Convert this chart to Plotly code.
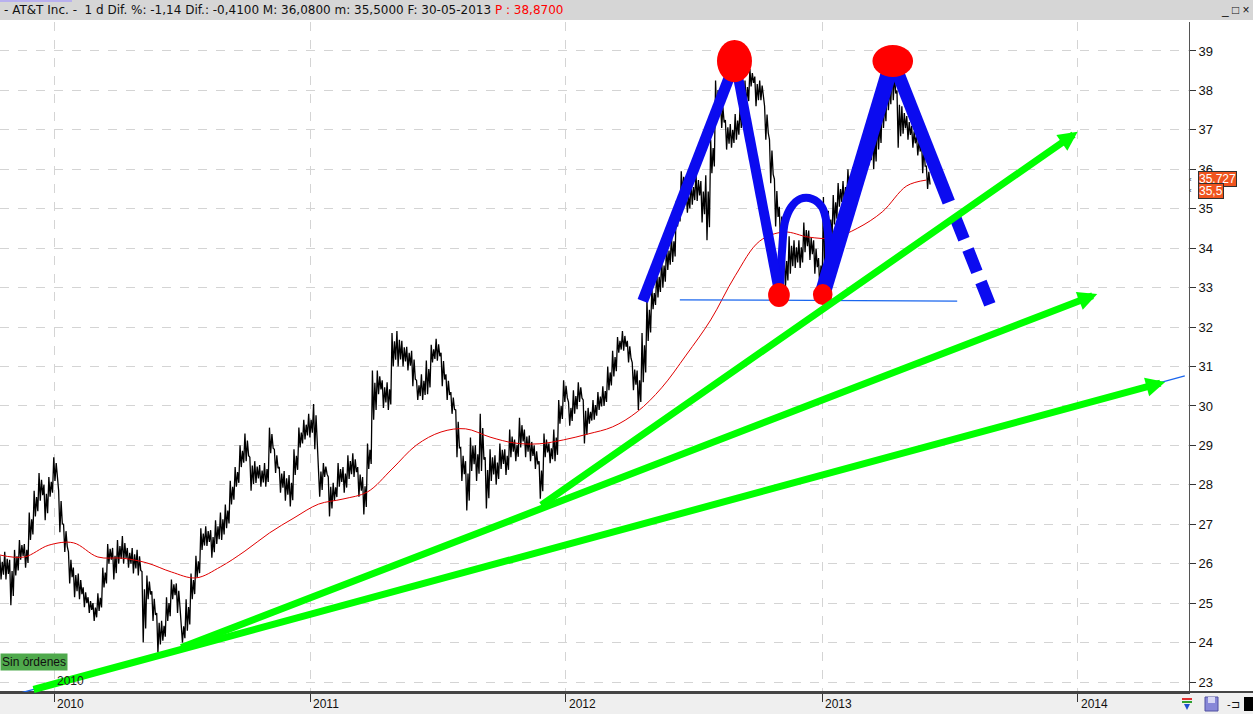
import plotly.graph_objects as go
import pandas as pd

# ---------------- data ----------------
dates = pd.date_range("2009-10-15", periods=190, freq="7D")  # weekly ranges, last = 30-05-2013

week_high = [
    26.2, 26.3, 26.1, 26.35, 26.6, 26.5, 27.3, 27.85, 28.3, 28.0,
    28.2, 28.7, 27.85, 27.0, 26.3, 25.9, 25.75, 25.4, 25.15, 25.0,
    25.25, 25.9, 26.5, 26.4, 26.6, 26.7, 26.4, 26.4, 26.35, 25.8,
    25.7, 25.3, 24.75, 24.55, 25.15, 25.6, 25.5, 24.55, 25.1, 25.75,
    26.2, 26.9, 26.95, 26.85, 27.1, 27.3, 27.5, 28.1, 28.45, 29.0,
    29.3, 28.7, 28.6, 28.5, 28.55, 29.45, 28.9, 28.45, 28.35, 28.25,
    28.9, 29.45, 29.65, 29.8, 30.05, 28.55, 28.55, 28.2, 28.05, 28.55,
    28.45, 28.75, 28.8, 28.45, 28.2, 29.05, 30.9, 30.9, 30.65, 30.6,
    31.85, 31.9, 31.65, 31.5, 31.4, 30.65, 30.8, 31.15, 31.55, 31.7,
    31.35, 30.8, 30.35, 29.9, 28.95, 28.6, 29.2, 29.0, 29.8, 28.7,
    28.9, 28.75, 29.05, 28.9, 29.4, 29.15, 29.7, 29.4, 29.25, 29.0,
    28.6, 29.3, 29.05, 29.4, 30.15, 30.65, 30.1, 30.4, 30.6, 30.15,
    29.95, 30.15, 30.35, 30.5, 31.0, 31.4, 31.75, 31.9, 31.65, 31.1,
    30.9, 31.85, 32.7, 33.0, 33.45, 33.75, 34.1, 34.35, 35.2, 35.95,
    35.45, 35.7, 35.9, 35.7, 35.85, 36.75, 38.25, 37.75, 37.25, 37.15,
    37.4, 37.6, 38.25, 38.55, 38.35, 38.25, 37.6, 36.75, 35.75, 35.05,
    33.9, 34.3, 34.2, 34.2, 34.65, 34.45, 34.2, 33.75, 35.3, 34.95,
    35.35, 35.65, 35.7, 36.0, 36.05, 36.35, 36.75, 36.75, 37.0, 37.35,
    37.9, 38.25, 38.6, 38.0, 37.6, 37.35, 37.1, 36.85, 36.8, 36.08,
]
week_low = [
    25.6, 25.6, 24.95, 25.7, 26.1, 25.9, 26.6, 27.2, 27.6, 27.1,
    27.7, 28.1, 26.8, 26.3, 25.5, 25.15, 25.1, 24.9, 24.75, 24.55,
    24.8, 25.4, 26.0, 25.6, 26.0, 26.0, 25.9, 25.75, 25.7, 24.0,
    25.1, 24.55, 23.75, 24.05, 24.55, 25.1, 24.75, 24.0, 24.3, 25.1,
    25.65, 26.35, 26.45, 26.15, 26.5, 26.6, 26.9, 27.5, 27.95, 28.45,
    28.6, 27.85, 28.05, 27.95, 27.95, 28.8, 28.3, 27.8, 27.6, 27.45,
    28.25, 28.95, 29.15, 29.2, 28.9, 27.7, 28.2, 27.2, 27.6, 27.95,
    27.8, 28.15, 28.2, 27.7, 27.25, 28.4, 29.65, 30.3, 29.95, 29.9,
    31.0, 31.0, 31.0, 30.9, 30.5, 30.15, 30.15, 30.3, 31.1, 31.15,
    30.5, 30.15, 29.8, 28.7, 28.1, 27.35, 28.35, 28.1, 28.35, 27.4,
    28.1, 28.0, 28.4, 28.25, 28.7, 28.6, 28.95, 28.7, 28.6, 28.4,
    27.65, 28.7, 28.55, 28.6, 29.55, 30.1, 29.5, 29.8, 30.1, 29.05,
    29.55, 29.65, 29.9, 30.0, 30.4, 30.75, 31.35, 31.4, 31.1, 30.4,
    29.9, 30.6, 31.65, 32.45, 32.75, 33.0, 33.45, 33.65, 34.55, 35.4,
    34.9, 35.1, 35.2, 34.65, 34.2, 35.9, 37.3, 37.05, 36.5, 36.55,
    36.75, 37.05, 37.6, 38.1, 37.6, 37.75, 36.75, 35.65, 34.55, 34.05,
    33.0, 33.35, 33.5, 33.5, 33.9, 33.7, 33.35, 33.0, 33.2, 34.05,
    34.6, 35.05, 35.1, 35.35, 35.55, 35.7, 36.05, 36.1, 36.0, 36.5,
    37.05, 37.5, 37.75, 36.55, 36.9, 36.75, 36.55, 36.35, 35.9, 35.5,
]

ma_index = list(range(0, 190, 5)) + [189]
ma_values = [26.22, 26.17, 26.47, 26.53, 26.17, 26.14, 26.02, 25.79, 25.64, 25.92,
             26.32, 26.78, 27.16, 27.51, 27.64, 27.82, 28.40, 29.01, 29.34, 29.42,
             29.21, 29.06, 29.04, 29.14, 29.29, 29.47, 29.85, 30.46, 31.29, 32.18,
             33.30, 34.18, 34.41, 34.28, 34.26, 34.51, 34.92, 35.58, 35.727]

year_ticks = ["2010-01-01", "2011-01-01", "2012-01-01", "2013-01-01", "2014-01-01"]
year_labels = ["2010", "2011", "2012", "2013", "2014"]
price_ticks = list(range(23, 40))

# hand-drawn annotations (date, price)
green_arrows = [  # tail -> head
    ("2009-11-30", 22.80, "2014-05-06", 30.61),
    ("2010-06-29", 23.86, "2014-01-29", 32.84),
    ("2011-11-25", 27.46, "2014-01-01", 36.95),
]
thin_blue = [
    ("2009-11-13", 22.72, "2014-06-03", 30.76),
    ("2011-11-25", 27.41, "2012-06-26", 30.05),
    ("2012-06-12", 32.69, "2013-07-13", 32.66),
]
m_legs = [  # x0, y0, x1, y1, width
    ("2012-04-20", 32.66, "2012-08-30", 38.72, 11),
    ("2012-08-30", 38.72, "2012-11-01", 32.86, 10),
    ("2013-01-02", 32.86, "2013-04-12", 38.77, 16),
    ("2013-04-12", 38.77, "2013-07-01", 35.17, 13),
]
m_dashed = ("2013-07-10", 34.79, "2013-08-29", 32.56)
arc_x = ["2012-11-02", "2012-11-05", "2012-11-09", "2012-11-18", "2012-12-01",
         "2012-12-18", "2013-01-01", "2013-01-08", "2013-01-11", "2013-01-07"]
arc_y = [33.02, 33.95, 34.66, 35.04, 35.25, 35.25, 35.04, 34.59, 33.83, 32.86]
red_ellipses = [  # x0, x1, y0, y1
    ("2012-08-04", "2012-09-23", 38.21, 39.28),
    ("2013-03-14", "2013-05-11", 38.34, 39.15),
    ("2012-10-16", "2012-11-16", 32.51, 33.12),
    ("2012-12-19", "2013-01-16", 32.56, 33.09),
]
tags = [(35.75, "35,727"), (35.46, "35,5")]

header_text = ("- AT&T Inc. -&nbsp; 1 d Dif. %: -1,14 Dif.: -0,4100 M: 36,0800 m: 35,5000 "
               "F: 30-05-2013 <span style='color:#ff0000'>P : 38,8700</span>")

FONT = "Liberation Sans"
W, H = 1253, 714
L, R, T, B = 0, 64, 22, 22
PW, PH = W - L - R, H - T - B


def px(xp):
    return (xp - L) / PW


def py(yp):
    return (H - B - yp) / PH


# zigzag through each week's high and low, like a dense run of daily bars
zz_x, zz_y = [], []
for d, h, l in zip(dates, week_high, week_low):
    zz_x += [d, d + pd.Timedelta(hours=42), d + pd.Timedelta(hours=84), d + pd.Timedelta(hours=126)]
    zz_y += [h, l, h - (h - l) * 0.25, l + (h - l) * 0.2]

fig = go.Figure()
fig.add_trace(go.Scatter(x=zz_x, y=zz_y, mode="lines", line=dict(color="black", width=1.3),
                         hoverinfo="skip", showlegend=False))
fig.add_trace(go.Scatter(x=[dates[i] for i in ma_index], y=ma_values, mode="lines",
                         line=dict(color="#e00000", width=1, shape="spline"),
                         hoverinfo="skip", showlegend=False))
fig.add_trace(go.Scatter(x=arc_x, y=arc_y, mode="lines",
                         line=dict(color="#0b0bf0", width=8, shape="spline"),
                         hoverinfo="skip", showlegend=False))

shapes = []
shapes.append(dict(type="rect", xref="paper", yref="paper", x0=0, x1=px(W), y0=py(20), y1=py(0),
                   fillcolor="#d6d6d6", line=dict(width=0), layer="below"))
shapes.append(dict(type="rect", xref="paper", yref="paper", x0=0, x1=px(72), y0=py(2), y1=py(0),
                   fillcolor="#b8b0ee", line=dict(width=0), layer="below"))
shapes.append(dict(type="rect", xref="paper", yref="paper", x0=0, x1=px(W), y0=py(H), y1=py(H - B),
                   fillcolor="#efefef", line=dict(width=0), layer="below"))
shapes.append(dict(type="line", xref="paper", yref="paper", x0=0, x1=px(W), y0=0, y1=0,
                   line=dict(color="#444444", width=2)))

for x0, y0, x1, y1 in thin_blue:
    shapes.append(dict(type="line", xref="x", yref="y", x0=x0, y0=y0, x1=x1, y1=y1,
                       line=dict(color="#1a66ee", width=1.3)))
for x0, y0, x1, y1, w in m_legs:
    shapes.append(dict(type="line", xref="x", yref="y", x0=x0, y0=y0, x1=x1, y1=y1,
                       line=dict(color="#0b0bf0", width=w)))
shapes.append(dict(type="line", xref="x", yref="y", x0=m_dashed[0], y0=m_dashed[1],
                   x1=m_dashed[2], y1=m_dashed[3], line=dict(color="#0b0bf0", width=12, dash="24px,11px")))
for x0, x1, y0, y1 in red_ellipses:
    shapes.append(dict(type="circle", xref="x", yref="y", x0=x0, x1=x1, y0=y0, y1=y1,
                       fillcolor="#ff0000", line=dict(width=0)))

shapes += [
    dict(type="line", xref="paper", yref="paper", x0=px(1182), x1=px(1192), y0=py(699), y1=py(699),
         line=dict(color="#e03030", width=2)),
    dict(type="line", xref="paper", yref="paper", x0=px(1182), x1=px(1192), y0=py(702), y1=py(702),
         line=dict(color="#30a030", width=2)),
    dict(type="path", xref="paper", yref="paper",
         path=f"M{px(1184)},{py(704)} L{px(1190)},{py(704)} L{px(1187)},{py(710)} Z",
         fillcolor="#2050d0", line=dict(width=0)),
    dict(type="rect", xref="paper", yref="paper", x0=px(1205), x1=px(1218), y0=py(711), y1=py(697),
         fillcolor="#8888d8", line=dict(color="#5050a0", width=1)),
    dict(type="rect", xref="paper", yref="paper", x0=px(1208), x1=px(1215), y0=py(703), y1=py(697),
         fillcolor="#d8d8f4", line=dict(width=0)),
    dict(type="rect", xref="paper", yref="paper", x0=px(1244), x1=px(1253), y0=py(711), y1=py(697),
         fillcolor="#000000", line=dict(width=0)),
]

annotations = []
for x0, y0, x1, y1 in green_arrows:
    annotations.append(dict(x=x1, y=y1, ax=x0, ay=y0, xref="x", yref="y", axref="x", ayref="y",
                            showarrow=True, arrowhead=2, arrowsize=0.55, arrowwidth=7,
                            arrowcolor="#00ff00", text="", standoff=0))
annotations.append(dict(xref="paper", yref="paper", x=px(2), y=py(10), xanchor="left", yanchor="middle",
                        text=header_text, showarrow=False,
                        font=dict(family="DejaVu Sans", size=12, color="#111111")))
annotations.append(dict(xref="paper", yref="paper", x=px(1219), y=py(10), xanchor="left", yanchor="middle",
                        text="_ □ ×", showarrow=False, font=dict(family=FONT, size=12, color="#111111")))
annotations.append(dict(xref="paper", yref="paper", x=px(1225), y=py(704), xanchor="left", yanchor="middle",
                        text="-⊐", showarrow=False, font=dict(family=FONT, size=11, color="#111111")))
for xv, lab in zip(year_ticks, year_labels):
    annotations.append(dict(xref="x", yref="paper", x=xv, y=0, xanchor="left", yanchor="top",
                            xshift=1, yshift=-3, text=lab, showarrow=False,
                            font=dict(family=FONT, size=12, color="#111111")))
annotations.append(dict(xref="x", yref="paper", x=year_ticks[0], y=0, xanchor="left", yanchor="bottom",
                        xshift=1, yshift=2, text=year_labels[0], showarrow=False,
                        font=dict(family=FONT, size=12, color="#222222")))
annotations.append(dict(xref="paper", yref="paper", x=0, y=py(662), xanchor="left", yanchor="middle",
                        text="Sin órdenes", showarrow=False, bgcolor="#4fa94c", borderpad=1,
                        font=dict(family=FONT, size=12, color="#111111")))
for yv, lab in tags:
    annotations.append(dict(xref="paper", yref="y", x=px(1198), y=yv, xanchor="left", yanchor="middle",
                            text=lab, showarrow=False, bgcolor="#f0541e", bordercolor="#303030",
                            borderwidth=1, borderpad=0, font=dict(family=FONT, size=12, color="white")))
    annotations.append(dict(xref="paper", yref="y", x=px(1188), y=yv, xanchor="left", yanchor="middle",
                            text="‹", showarrow=False, borderpad=0,
                            font=dict(family=FONT, size=8, color="#333333")))

fig.update_layout(
    width=W, height=H, margin=dict(l=L, r=R, t=T, b=B),
    paper_bgcolor="white", plot_bgcolor="white",
    showlegend=False, shapes=shapes, annotations=annotations,
    font=dict(family=FONT, size=12, color="#111111"),
    xaxis=dict(type="date", range=["2009-10-15 06:00", "2014-06-09"], tickvals=year_ticks,
               showticklabels=False, ticks="outside", ticklen=8, tickcolor="#333333",
               showgrid=True, gridcolor="#d4d4d4", griddash="dash", zeroline=False,
               showline=True, linecolor="#444444", linewidth=2, fixedrange=True),
    yaxis=dict(side="right", range=[22.747, 39.735], tickvals=price_ticks,
               ticks="outside", ticklen=6, tickcolor="#333333",
               tickfont=dict(family=FONT, size=13, color="#111111"),
               showgrid=True, gridcolor="#d4d4d4", griddash="dash", zeroline=False,
               showline=True, linecolor="#555555", linewidth=1, fixedrange=True),
)

fig.write_html("out.html", config={"displayModeBar": False},
               post_script="document.body.style.margin='0';document.body.style.overflow='hidden';")
